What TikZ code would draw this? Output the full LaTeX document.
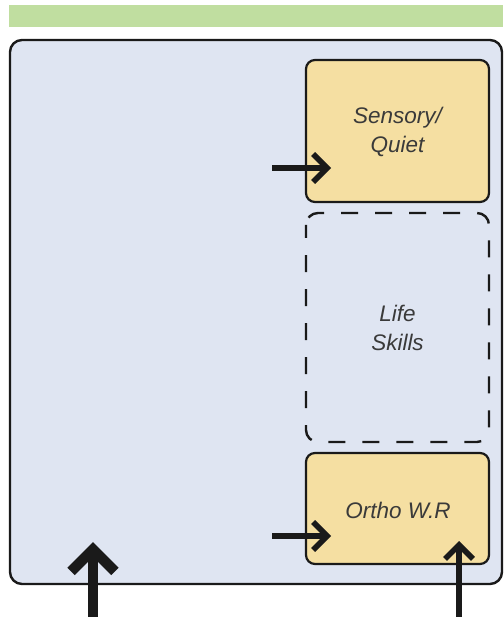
\documentclass[tikz,border=0pt]{standalone}
\usepackage{fontspec}
\setmainfont{Liberation Sans}
\usetikzlibrary{arrows.meta}
\definecolor{barGreen}{HTML}{C0DEA0}
\definecolor{roomBlue}{HTML}{DFE5F2}
\definecolor{zoneYellow}{HTML}{F5DFA2}
\definecolor{ink}{HTML}{1A1A1A}
\definecolor{labelInk}{HTML}{3A3A3A}
\tikzset{
  zone/.style={draw=ink, line width=2.2pt, fill=zoneYellow, rounded corners=9pt},
  openzone/.style={draw=ink, line width=2.4pt, dash pattern=on 17pt off 17pt, dash phase=4pt, rounded corners=12pt},
  zonelabel/.style={text=labelInk, font=\fontsize{22.5}{29}\selectfont\itshape, align=center},
  entry/.style={draw=ink, line width=5.5pt, -{Straight Barb[length=14pt, width=28pt, line width=5.5pt]}},
  mainentry/.style={draw=ink, line width=10.5pt, -{Straight Barb[length=22pt, width=44pt, line width=10.5pt]}}
}
\begin{document}
\begin{tikzpicture}[x=1pt, y=-1pt]
  \useasboundingbox (0,0) rectangle (503,617);
  \fill[white] (0,0) rectangle (503,617);
  % header strip
  \fill[barGreen] (9,5) rectangle (503,27);
  % main room
  \draw[draw=ink, line width=2.4pt, fill=roomBlue, rounded corners=12pt] (10,40) rectangle (502,584);
  % zones on the right
  \draw[zone] (306,60) rectangle (489,202);
  \node[zonelabel] (sensory) at (397.5,132) {Sensory/\\Quiet};
  \draw[openzone] (306,213) rectangle (489,442);
  \node[zonelabel] (life) at (397.5,328) {Life\\Skills};
  \draw[zone] (306,453) rectangle (489,564);
  \node[zonelabel] (ortho) at (398,510) {Ortho W.R};
  % entry arrows
  \coordinate (sIn) at (272,168);
  \coordinate (sTip) at (331,168);
  \draw[entry] (sIn) -- (sTip);
  \coordinate (oIn) at (272,536);
  \coordinate (oTip) at (331,536);
  \draw[entry] (oIn) -- (oTip);
  \coordinate (rIn) at (459,617);
  \coordinate (rTip) at (459,541);
  \draw[entry] (rIn) -- (rTip);
  \coordinate (mIn) at (93,617);
  \coordinate (mTip) at (93,542);
  \draw[mainentry] (mIn) -- (mTip);
\end{tikzpicture}
\end{document}
